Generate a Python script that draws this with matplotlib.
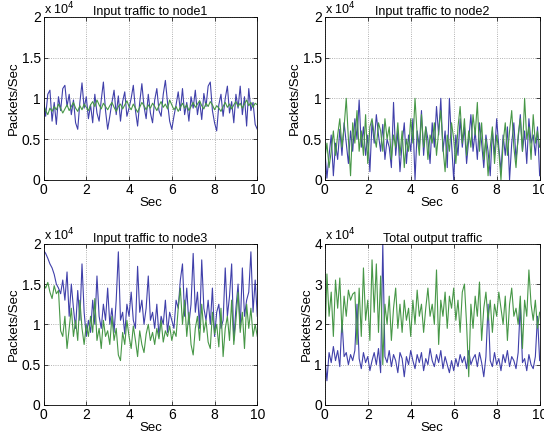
import numpy as np
import matplotlib
matplotlib.use("Agg")
import matplotlib.pyplot as plt

plt.rcParams["font.family"] = ["Liberation Sans", "DejaVu Sans"]

# time axis (sec)
t = np.linspace(0, 10, 101)

# packets/sec, in units of 1e4
node1_blue = [1.00, 0.78, 1.05, 1.10, 0.72, 0.95, 0.68, 1.02, 0.85, 1.12,
              1.16, 0.90, 1.05, 0.80, 0.98, 0.70, 0.62, 0.95, 1.19, 0.88,
              1.02, 0.75, 0.92, 0.70, 1.05, 0.82, 0.72, 0.98, 1.20, 0.85,
              0.62, 0.78, 0.95, 1.10, 0.80, 1.03, 0.72, 0.96, 1.08, 0.78,
              0.88, 1.00, 1.16, 0.85, 0.66, 0.95, 1.18, 0.90, 0.75, 1.05,
              0.82, 0.70, 0.98, 1.12, 0.85, 0.78, 1.05, 1.22, 0.95, 0.72,
              0.62, 0.78, 0.92, 1.08, 0.85, 1.12, 0.80, 0.95, 0.72, 1.02,
              0.88, 1.10, 0.80, 0.97, 0.74, 1.06, 0.90, 1.15, 1.20, 0.85,
              0.70, 0.60, 0.92, 1.05, 0.78, 1.00, 1.15, 0.82, 0.96, 0.70,
              1.05, 0.88, 1.15, 0.80, 1.02, 0.66, 1.12, 0.85, 0.95, 0.68, 0.62]
node1_green = [0.92, 0.85, 0.80, 0.88, 0.84, 0.90, 0.86, 0.93, 0.88, 0.82,
               0.87, 0.92, 0.85, 0.90, 0.95, 0.88, 0.84, 0.91, 0.86, 0.93,
               0.89, 0.85, 0.92, 0.96, 0.90, 0.98, 0.92, 0.87, 0.94, 0.90,
               0.86, 0.91, 0.95, 0.89, 0.84, 0.90, 0.93, 0.87, 0.92, 0.97,
               0.90, 0.86, 0.93, 0.88, 0.83, 0.89, 0.95, 0.91, 0.86, 0.92,
               0.88, 0.94, 0.90, 0.85, 0.91, 0.96, 0.89, 0.93, 0.87, 0.98,
               0.92, 0.86, 0.90, 0.84, 0.89, 0.94, 0.88, 0.92, 0.85, 0.90,
               0.95, 0.89, 0.93, 0.97, 0.91, 0.87, 0.94, 0.90, 0.96, 0.92,
               0.86, 0.91, 0.88, 0.84, 0.90, 0.95, 0.89, 0.93, 0.87, 0.92,
               0.96, 0.90, 0.94, 0.88, 0.93, 0.98, 0.91, 0.95, 0.89, 0.94, 0.92]

node2_blue = [0.38, 0.02, 0.30, 0.55, 0.05, 0.45, 0.25, 0.62, 0.30, 0.70,
              0.45, 0.20, 0.60, 0.35, 0.75, 0.50, 0.98, 0.40, 0.65, 0.30,
              0.55, 0.10, 0.72, 0.45, 0.80, 0.55, 0.35, 0.68, 0.25, 0.50,
              0.40, 0.15, 0.95, 0.30, 0.60, 0.10, 0.45, 0.70, 0.20, 0.55,
              0.35, 0.75, 0.00, 0.60, 0.40, 0.85, 0.30, 0.65, 0.50, 0.20,
              0.70, 0.40, 0.90, 0.55, 1.00, 0.35, 0.60, 0.15, 1.00, 0.45,
              0.00, 0.55, 0.30, 0.75, 0.40, 0.65, 0.20, 0.50, 0.80, 0.35,
              0.60, 0.25, 0.70, 0.45, 0.15, 0.55, 0.35, 0.05, 0.60, 0.30,
              0.75, 0.40, 0.10, 0.55, 0.30, 0.65, 0.00, 0.45, 0.70, 0.25,
              0.50, 0.80, 0.35, 0.60, 0.20, 0.75, 0.45, 0.55, 0.30, 0.65, 0.05]
node2_green = [0.25, 0.45, 0.15, 0.35, 0.60, 0.30, 0.55, 0.75, 0.40, 0.65,
               1.00, 0.50, 0.05, 0.70, 0.45, 0.85, 0.35, 0.60, 0.30, 0.80,
               0.20, 0.65, 0.75, 0.55, 0.40, 0.70, 0.60, 0.35, 0.75, 0.50,
               0.65, 0.25, 0.55, 0.40, 0.70, 0.30, 0.60, 0.15, 0.50, 0.35,
               0.75, 0.45, 1.00, 0.55, 0.30, 0.80, 0.40, 0.65, 0.25, 0.55,
               0.45, 0.70, 0.30, 0.60, 0.85, 0.40, 0.10, 0.55, 0.35, 0.70,
               0.50, 0.20, 0.65, 0.90, 0.45, 0.75, 0.30, 0.60, 0.40, 0.80,
               0.55, 0.95, 0.35, 0.70, 0.25, 0.50, 0.05, 0.40, 0.65, 0.20,
               0.55, 0.35, 0.00, 0.45, 0.70, 0.30, 0.60, 0.85, 0.40, 0.15,
               0.55, 0.75, 0.35, 1.00, 0.50, 0.65, 0.25, 0.80, 0.45, 0.60, 0.40]

node3_blue = [1.92, 1.88, 1.82, 1.75, 1.70, 1.62, 1.50, 1.45, 1.38, 1.55,
              1.30, 1.65, 1.10, 1.50, 1.20, 0.95, 1.42, 1.05, 1.75, 1.15,
              0.85, 1.05, 0.90, 1.30, 1.00, 1.60, 1.10, 0.95, 1.25, 1.05,
              1.45, 1.00, 1.20, 0.90, 1.30, 1.90, 1.05, 1.15, 0.88, 1.25,
              1.10, 1.40, 1.05, 0.95, 1.72, 1.15, 1.30, 1.00, 1.20, 1.60,
              1.05, 1.15, 0.95, 1.25, 0.85, 1.10, 1.00, 1.30, 0.90, 1.15,
              1.05, 0.95, 1.30, 1.20, 1.55, 1.75, 1.10, 1.45, 1.00, 1.25,
              1.88, 1.15, 1.40, 0.95, 1.80, 1.20, 1.05, 1.30, 1.00, 1.45,
              0.85, 1.15, 1.25, 0.95, 1.05, 1.70, 1.10, 1.35, 1.75, 0.80,
              1.20, 1.50, 0.95, 1.70, 1.10, 1.30, 1.40, 1.90, 1.15, 1.55, 1.10]
node3_green = [1.50, 1.45, 1.52, 1.40, 1.32, 1.48, 1.38, 1.42, 0.92, 0.85,
               1.10, 0.70, 0.95, 1.20, 0.85, 1.05, 0.80, 1.30, 0.95, 0.75,
               1.00, 0.85, 1.10, 0.90, 1.32, 0.80, 0.95, 0.70, 1.05, 0.85,
               0.92, 0.75, 1.10, 0.80, 0.95, 0.62, 0.55, 0.90, 0.75, 1.05,
               0.85, 0.70, 0.98, 0.80, 0.60, 0.92, 0.75, 0.65, 0.88, 1.00,
               0.80, 0.90, 0.75, 0.95, 0.82, 1.05, 0.78, 0.92, 0.85, 0.98,
               0.80, 0.92, 0.85, 1.20, 1.45, 1.00, 1.30, 0.85, 1.15, 0.75,
               0.62, 0.95, 1.10, 0.80, 1.25, 0.90, 1.05, 0.78, 0.70, 1.15,
               0.88, 1.00, 0.72, 1.20, 0.60, 0.95, 1.10, 0.80, 1.30, 0.75,
               1.05, 1.40, 0.90, 1.15, 0.70, 1.25, 0.95, 1.20, 0.85, 1.00, 0.85]

total_blue = [1.20, 0.60, 1.30, 1.05, 1.45, 1.10, 1.35, 0.95, 2.10, 1.20,
              1.30, 1.00, 1.25, 1.10, 1.35, 2.50, 1.15, 0.90, 1.30, 1.05,
              1.20, 0.85, 1.10, 1.30, 1.00, 1.40, 0.80, 4.00, 1.20, 1.05,
              1.35, 0.95, 1.25, 1.10, 0.80, 1.30, 1.15, 0.70, 1.20, 1.00,
              1.35, 1.10, 0.90, 1.25, 1.05, 1.30, 0.85, 1.15, 1.00, 1.40,
              1.10, 0.95, 1.25, 1.05, 1.35, 0.90, 1.20, 1.00, 0.80, 1.10,
              0.85, 1.15, 0.95, 1.25, 1.05, 1.20, 0.90, 1.35, 1.00, 1.15,
              1.25, 0.95, 1.30, 1.05, 0.70, 1.20, 2.50, 1.10, 0.95, 1.30,
              1.00, 1.15, 0.85, 1.25, 1.05, 1.35, 0.95, 1.20, 1.10, 0.90,
              1.30, 2.50, 1.05, 1.15, 0.85, 1.25, 1.00, 0.90, 1.20, 2.20, 1.10]
total_green = [1.40, 3.25, 2.20, 2.80, 1.70, 3.10, 2.40, 3.15, 1.80, 2.70,
               2.20, 2.85, 2.60, 2.75, 2.80, 1.50, 2.90, 1.70, 3.40, 2.10,
               2.60, 1.60, 3.60, 2.30, 3.50, 1.80, 3.20, 1.00, 2.50, 2.00,
               2.70, 1.60, 2.40, 2.90, 1.90, 2.50, 1.80, 2.60, 2.10, 2.40,
               1.70, 2.60, 2.00, 2.85, 2.20, 2.50, 1.80, 2.40, 2.90, 2.20,
               2.50, 2.00, 3.35, 1.50, 2.60, 2.20, 2.80, 1.90, 2.70, 2.40,
               2.90, 2.10, 2.60, 1.80, 2.80, 3.00, 2.00, 0.70, 2.50, 1.90,
               2.70, 2.20, 3.05, 1.60, 2.40, 2.80, 2.10, 2.60, 1.80, 2.50,
               2.20, 2.80, 2.40, 2.00, 2.70, 1.60, 2.50, 2.90, 2.20, 2.40,
               2.00, 2.70, 1.40, 2.60, 2.20, 3.35, 2.50, 2.10, 2.60, 1.90, 2.30]

panels = [
    ("Input traffic to node1", node1_blue, node1_green, 2, [0, 0.5, 1, 1.5, 2]),
    ("Input traffic to node2", node2_blue, node2_green, 2, [0, 0.5, 1, 1.5, 2]),
    ("Input traffic to node3", node3_blue, node3_green, 2, [0, 0.5, 1, 1.5, 2]),
    ("Total output traffic", total_blue, total_green, 4, [0, 1, 2, 3, 4]),
]
positions = [
    [0.080, 0.595, 0.393, 0.367],
    [0.597, 0.595, 0.395, 0.367],
    [0.080, 0.088, 0.393, 0.363],
    [0.597, 0.088, 0.395, 0.363],
]

fig = plt.figure(figsize=(5.44, 4.44), dpi=100)

for (title, blue, green, ymax, yticks), pos in zip(panels, positions):
    ax = fig.add_axes(pos)
    ax.plot(t, blue, color="#4040aa", lw=0.8)
    ax.plot(t, green, color="#479747", lw=0.8)
    ax.set_xlim(0, 10)
    ax.set_ylim(0, ymax)
    ax.set_xticks([0, 2, 4, 6, 8, 10])
    ax.set_yticks(yticks)
    ax.set_yticklabels([f"{v:g}" for v in yticks])
    ax.grid(True, linestyle=":", color="#999999", linewidth=0.6)
    ax.tick_params(direction="in", top=True, right=True, length=3,
                   labelsize=10, pad=2, width=0.5)
    for s in ax.spines.values():
        s.set_linewidth(0.6)
    ax.set_title(title, fontsize=9, pad=1)
    ax.set_xlabel("Sec", fontsize=9.5, labelpad=0)
    ax.set_ylabel("Packets/Sec", fontsize=9.5, labelpad=1)
    ax.text(0.0, 1.0, r"x 10$^4$", transform=ax.transAxes, fontsize=9,
            ha="left", va="bottom")

fig.savefig("out.png", dpi=100)
